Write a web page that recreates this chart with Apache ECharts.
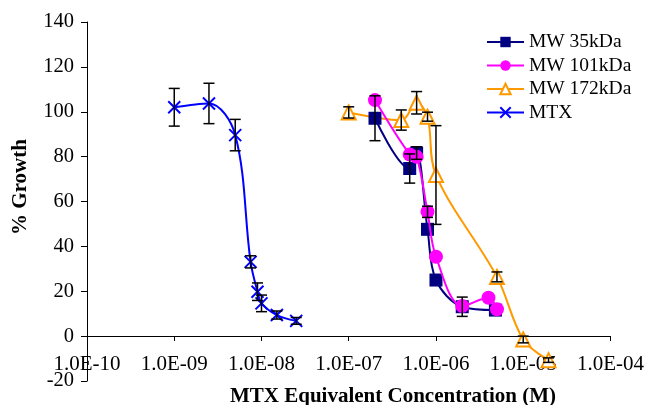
<!DOCTYPE html>
<html>
<head>
<meta charset="utf-8">
<script src="https://cdn.jsdelivr.net/npm/echarts@6/dist/echarts.min.js"></script>
<style>html,body{margin:0;padding:0;background:#fff}#c{width:647px;height:405px}</style>
</head>
<body>
<div id="c"></div>
<script>
const xTickLabels = ['1.0E-10','1.0E-09','1.0E-08','1.0E-07','1.0E-06','1.0E-05','1.0E-04'];
const seriesNames = ['MW 35kDa','MW 101kDa','MW 172kDa','MTX'];

const conc35 = [2e-7, 5e-7, 6e-7, 8e-7, 1e-6, 2e-6, 4.8e-6];
const growth35 = [97.1, 74.7, 81.6, 47.6, 25.0, 13.1, 11.6];
const err35 = [10, 6.5, 2.8, 0, 0, 4.3, 0];

const conc101 = [2e-7, 5e-7, 6e-7, 8e-7, 1e-6, 2e-6, 4e-6, 5e-6];
const growth101 = [105.2, 80.9, 79.9, 55.4, 35.4, 13.4, 17.1, 12.0];
const err101 = [0, 0, 0, 2.5, 0, 0, 0, 0];

const conc172 = [1e-7, 4e-7, 6e-7, 8e-7, 1e-6, 5e-6, 1e-5, 1.95e-5];
const growth172 = [99.7, 96.3, 104.0, 97.8, 71.8, 26.4, -1.5, -10.7];
const err172 = [2.5, 4.5, 5, 2, 22, 2.2, 1.5, 1];

const concMTX = [1e-9, 2.5e-9, 5e-9, 7.5e-9, 9e-9, 1e-8, 1.5e-8, 2.5e-8];
const growthMTX = [102.0, 103.7, 89.6, 33.1, 19.8, 14.6, 9.4, 6.8];
const errMTX = [8.4, 9, 7, 2.7, 3.9, 3.7, 1.8, 1.5];

const FONT = "'Liberation Serif','Times New Roman',serif";
const pairs = (xs, ys) => xs.map((x, i) => [x, ys[i]]);
const errRows = (xs, ys, es) => xs.map((x, i) => [x, ys[i], es[i]]).filter(r => r[2] > 0);

const errData = [].concat(
  errRows(conc35, growth35, err35),
  errRows(conc101, growth101, err101),
  errRows(conc172, growth172, err172),
  errRows(concMTX, growthMTX, errMTX)
);

const chart = echarts.init(document.getElementById('c'), null, {renderer: 'canvas'});
const xMark = 'path://M0,0L10,10M10,0L0,10';

chart.setOption({
  animation: false,
  backgroundColor: '#fff',
  grid: {left: 87, right: 34, top: 22, bottom: 24, containLabel: false},
  title: {
    text: 'MTX Equivalent Concentration (M)',
    left: 388, top: 381, textAlign: 'center',
    textStyle: {fontFamily: FONT, fontSize: 21, fontWeight: 'bold', color: '#000'}
  },
  graphic: [{
    type: 'text', x: 21, y: 187, rotation: Math.PI / 2,
    style: {text: '% Growth', fontFamily: FONT, fontSize: 21, fontWeight: 'bold',
      fill: '#000', textAlign: 'center', textVerticalAlign: 'middle'}
  }],
  legend: {
    data: seriesNames,
    orient: 'vertical', left: 481, top: 27,
    itemWidth: 37, itemHeight: 13, itemGap: 3.5,
    textStyle: {fontFamily: FONT, fontSize: 19.5, color: '#000', lineHeight: 20}
  },
  xAxis: {
    type: 'log', logBase: 10, min: 1e-10, max: 1e-4,
    position: 'bottom', offset: -45,
    splitLine: {show: false},
    axisLine: {onZero: false, lineStyle: {color: '#000', width: 1}},
    axisTick: {show: true, length: 5, lineStyle: {color: '#000'}},
    minorTick: {show: false},
    axisLabel: {
      fontFamily: FONT, fontSize: 21, color: '#000', margin: 18,
      formatter: v => xTickLabels[Math.round(Math.log10(v)) + 10]
    }
  },
  yAxis: {
    type: 'value', min: -20, max: 140, interval: 20,
    splitLine: {show: false},
    axisLine: {show: true, onZero: false, lineStyle: {color: '#000', width: 1}},
    axisTick: {show: true, length: 6, lineStyle: {color: '#000'}},
    axisLabel: {fontFamily: FONT, fontSize: 20.5, color: '#000', margin: 13}
  },
  series: [
    {
      name: 'MW 35kDa', type: 'line', data: pairs(conc35, growth35),
      smooth: 0.35, symbol: 'rect', symbolSize: 13,
      lineStyle: {color: '#000080', width: 2},
      itemStyle: {color: '#000080'}, z: 3
    },
    {
      name: 'MW 101kDa', type: 'line', data: pairs(conc101, growth101),
      smooth: 0.35, symbol: 'circle', symbolSize: 14,
      lineStyle: {color: '#FF00FF', width: 2},
      itemStyle: {color: '#FF00FF'}, z: 4
    },
    {
      name: 'MW 172kDa', type: 'line', data: pairs(conc172, growth172),
      smooth: 0.35, symbol: 'emptyTriangle', symbolSize: 14,
      lineStyle: {color: '#FF9900', width: 2},
      itemStyle: {color: '#FF9900', borderColor: '#FF9900', borderWidth: 2}, z: 2
    },
    {
      name: 'MTX', type: 'line', data: pairs(concMTX, growthMTX),
      smooth: 0.35, symbol: xMark, symbolSize: 12,
      lineStyle: {color: '#0000FF', width: 2},
      itemStyle: {color: 'none', borderColor: '#0000FF', borderWidth: 2}, z: 2
    },
    {
      name: 'errors', type: 'custom', data: errData, z: 10,
      renderItem: function (params, api) {
        const x = api.value(0), y = api.value(1), e = api.value(2);
        const top = api.coord([x, y + e]);
        const bot = api.coord([x, y - e]);
        const hw = 5.5;
        const st = {stroke: '#000', lineWidth: 1.5};
        return {
          type: 'group',
          children: [
            {type: 'line', shape: {x1: top[0], y1: top[1], x2: bot[0], y2: bot[1]}, style: st},
            {type: 'line', shape: {x1: top[0] - hw, y1: top[1], x2: top[0] + hw, y2: top[1]}, style: st},
            {type: 'line', shape: {x1: bot[0] - hw, y1: bot[1], x2: bot[0] + hw, y2: bot[1]}, style: st}
          ]
        };
      }
    }
  ]
});
</script>
</body>
</html>
